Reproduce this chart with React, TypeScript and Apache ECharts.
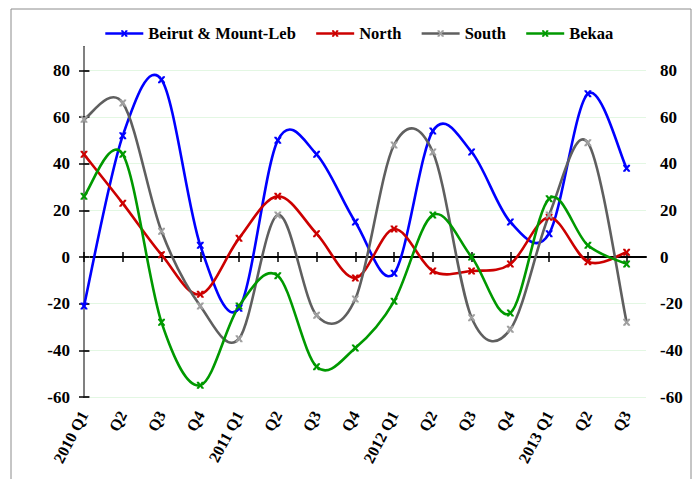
import React, { useEffect, useRef } from "react";
import * as echarts from "echarts";

const categories = [
  "2010 Q1", "Q2", "Q3", "Q4",
  "2011 Q1", "Q2", "Q3", "Q4",
  "2012 Q1", "Q2", "Q3", "Q4",
  "2013 Q1", "Q2", "Q3",
];
const beirut = [-21, 52, 76, 5, -22, 50, 44, 15, -7, 54, 45, 15, 10, 70, 38];
const north = [44, 23, 1, -16, 8, 26, 10, -9, 12, -6, -6, -3, 17, -2, 2];
const south = [59, 66, 11, -21, -35, 18, -25, -18, 48, 45, -26, -31, 18, 49, -28];
const bekaa = [26, 44, -28, -55, -21, -8, -47, -39, -19, 18, 0, -24, 25, 5, -3];
const yTicks = [-60, -40, -20, 0, 20, 40, 60, 80];

const X_SYMBOL =
  "path://M0,0L3,0L5,3L7,0L10,0L10,1.5L7,5L10,8.5L10,10L7,10L5,7L3,10L0,10L0,8.5L3,5L0,1.5Z";

const FONT = "Liberation Serif";

export default function App() {
  const ref = useRef<HTMLDivElement>(null);
  useEffect(() => {
    document.body.style.margin = "0";
    const chart = echarts.init(ref.current!, null, { renderer: "svg" });
    const xTickVals = categories.map((_, i) => i);

    const markers = (name: string, vals: number[], line: string, sym: string) => ({
      name,
      type: "line",
      xAxisIndex: 0,
      yAxisIndex: 0,
      data: vals.map((v, i) => [i, v]),
      symbol: X_SYMBOL,
      symbolSize: 7,
      showSymbol: true,
      color: sym,
      lineStyle: { color: line, width: 0, opacity: 0 },
      itemStyle: { color: sym },
      z: 4,
    });

    const curve = (vals: number[], line: string) => ({
      type: "custom",
      xAxisIndex: 0,
      yAxisIndex: 0,
      data: vals.map((v, i) => [i, v]),
      encode: { x: 0, y: 1 },
      z: 2,
      silent: true,
      renderItem: (params: any, api: any) => {
        const n = vals.length;
        const i = params.dataIndex;
        if (i >= n - 1) return null;
        const P = (k: number) => {
          const kk = Math.max(0, Math.min(n - 1, k));
          return api.coord([kk, vals[kk]]);
        };
        const p0 = P(i - 1);
        const p1 = P(i);
        const p2 = P(i + 1);
        const p3 = P(i + 2);
        const t = 1 / 6;
        return {
          type: "bezierCurve",
          shape: {
            x1: p1[0],
            y1: p1[1],
            x2: p2[0],
            y2: p2[1],
            cpx1: p1[0] + (p2[0] - p0[0]) * t,
            cpy1: p1[1] + (p2[1] - p0[1]) * t,
            cpx2: p2[0] - (p3[0] - p1[0]) * t,
            cpy2: p2[1] - (p3[1] - p1[1]) * t,
          },
          style: { stroke: line, lineWidth: 2.6, fill: null, lineCap: "round" },
        };
      },
    });

    const axisFont = { fontFamily: FONT, fontWeight: "bold", fontSize: 17, color: "#000" };

    chart.setOption({
      animation: false,
      backgroundColor: "#ffffff",
      graphic: [
        {
          type: "rect",
          shape: { x: 11, y: 9, width: 680, height: 480 },
          style: { fill: "none", stroke: "#8c8c8c", lineWidth: 1 },
          silent: true,
        },
      ],
      legend: {
        left: 104,
        top: 25,
        padding: 0,
        itemWidth: 38,
        itemHeight: 8,
        itemGap: 19,
        lineStyle: { width: 2.6, opacity: 1 },
        textStyle: { fontFamily: FONT, fontWeight: "bold", fontSize: 16.5, color: "#000" },
        data: ["Beirut & Mount-Leb", "North", "South", "Bekaa"],
      },
      grid: { left: 84, right: 50, top: 47, bottom: 82 },
      xAxis: [
        {
          type: "value",
          min: 0,
          max: 14.5,
          interval: 1,
          axisLine: { show: false, onZero: false },
          axisTick: { show: false },
          splitLine: { show: false },
          axisLabel: {
            ...axisFont,
            fontSize: 16,
            customValues: xTickVals,
            rotate: 62,
            margin: 15,
            formatter: (v: number) =>
              Number.isInteger(v) && categories[v] !== undefined ? categories[v] : "",
          },
        },
        {
          type: "value",
          min: 0,
          max: 14.5,
          interval: 1,
          axisLine: { show: true, onZero: true, lineStyle: { color: "#000", width: 2 } },
          axisTick: { show: true, customValues: xTickVals, length: 5, lineStyle: { color: "#000", width: 1.5 } },
          axisLabel: { show: false },
          splitLine: { show: false },
        },
        {
          type: "value",
          min: 0,
          max: 14.5,
          interval: 1,
          axisLine: { show: false, onZero: true },
          axisTick: { show: true, inside: true, customValues: xTickVals, length: 5, lineStyle: { color: "#000", width: 1.5 } },
          axisLabel: { show: false },
          splitLine: { show: false },
        },
      ],
      yAxis: [
        {
          type: "value",
          position: "left",
          min: -60,
          max: 90,
          interval: 10,
          axisLine: { show: true, lineStyle: { color: "#000", width: 2 } },
          axisTick: { show: true, customValues: yTicks, length: 5, lineStyle: { color: "#000", width: 1.5 } },
          axisLabel: { ...axisFont, customValues: yTicks, margin: 14 },
          splitLine: { show: true, lineStyle: { color: "#e3f7e3", width: 1 } },
        },
        {
          type: "value",
          position: "right",
          min: -60,
          max: 90,
          interval: 10,
          axisLine: { show: true, lineStyle: { color: "#808080", width: 2 } },
          axisTick: { show: true, customValues: yTicks, length: 6, lineStyle: { color: "#808080", width: 1.5 } },
          axisLabel: { ...axisFont, customValues: yTicks, margin: 14 },
          splitLine: { show: false },
        },
        {
          type: "value",
          position: "left",
          min: -60,
          max: 90,
          interval: 10,
          axisLine: { show: false },
          axisTick: { show: true, inside: true, customValues: yTicks, length: 5, lineStyle: { color: "#000", width: 1.5 } },
          axisLabel: { show: false },
          splitLine: { show: false },
        },
      ],
      series: [
        curve(beirut, "#0000ff"),
        curve(north, "#cc0000"),
        curve(south, "#5f5f5f"),
        curve(bekaa, "#009900"),
        markers("Beirut & Mount-Leb", beirut, "#0000ff", "#0000ff"),
        markers("North", north, "#cc0000", "#cc0000"),
        markers("South", south, "#5f5f5f", "#a0a0a0"),
        markers("Bekaa", bekaa, "#009900", "#009900"),
      ],
    });
    return () => chart.dispose();
  }, []);
  return <div ref={ref} style={{ width: 696, height: 479 }} />;
}
